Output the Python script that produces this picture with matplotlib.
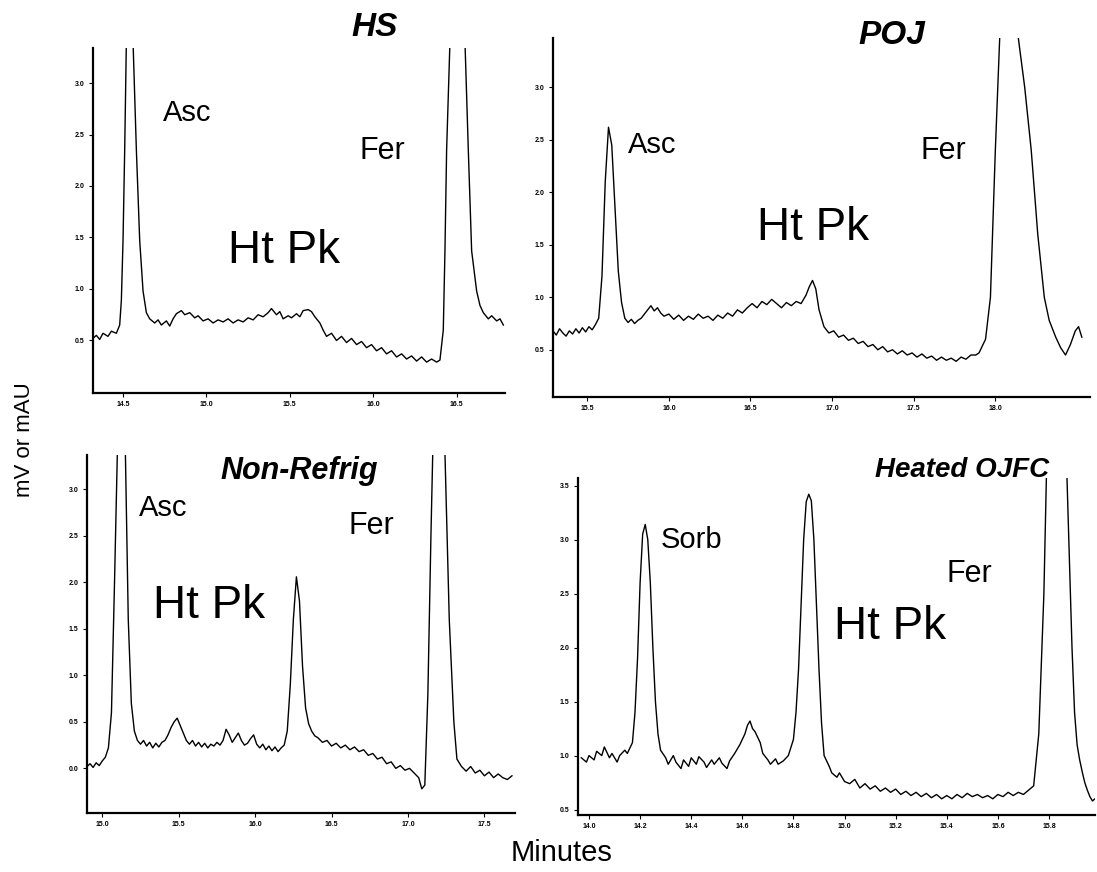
import matplotlib
matplotlib.use('Agg')
import matplotlib.pyplot as plt

plt.rcParams['font.family'] = ['Liberation Sans', 'DejaVu Sans']

# chromatogram traces (minutes, mV or mAU)
# values above the axis top are off-scale peaks, clipped by the axes
hs_time = [14.32, 14.34, 14.36, 14.38, 14.41, 14.43, 14.46, 14.48, 14.49, 14.50,
           14.51, 14.52, 14.54, 14.56, 14.58, 14.60, 14.62, 14.64, 14.66, 14.69,
           14.71, 14.73, 14.76, 14.78, 14.80, 14.82, 14.85, 14.87, 14.90, 14.93,
           14.95, 14.98, 15.01, 15.04, 15.07, 15.10, 15.13, 15.16, 15.19, 15.22,
           15.25, 15.28, 15.31, 15.34, 15.37, 15.39, 15.42, 15.44, 15.46, 15.49,
           15.51, 15.54, 15.56, 15.58, 15.61, 15.63, 15.65, 15.68, 15.70, 15.72,
           15.75, 15.78, 15.81, 15.84, 15.87, 15.90, 15.93, 15.96, 15.99, 16.02,
           16.05, 16.08, 16.11, 16.14, 16.17, 16.20, 16.23, 16.26, 16.29, 16.32,
           16.35, 16.38, 16.40, 16.42, 16.43, 16.44, 16.46, 16.50, 16.55, 16.57,
           16.59, 16.62, 16.64, 16.66, 16.69, 16.71, 16.74, 16.76, 16.78]
hs_signal = [0.52, 0.55, 0.51, 0.57, 0.54, 0.59, 0.57, 0.65, 0.89, 1.47,
             2.35, 3.40, 6.00, 3.40, 2.35, 1.47, 0.98, 0.77, 0.71, 0.67,
             0.70, 0.65, 0.69, 0.64, 0.71, 0.76, 0.79, 0.75, 0.77, 0.72,
             0.74, 0.69, 0.71, 0.67, 0.70, 0.68, 0.71, 0.67, 0.70, 0.68,
             0.72, 0.70, 0.75, 0.73, 0.77, 0.81, 0.75, 0.78, 0.71, 0.74,
             0.72, 0.76, 0.73, 0.79, 0.80, 0.78, 0.73, 0.67, 0.60, 0.54,
             0.57, 0.50, 0.54, 0.48, 0.52, 0.46, 0.49, 0.43, 0.46, 0.40,
             0.43, 0.37, 0.40, 0.34, 0.37, 0.32, 0.35, 0.30, 0.34, 0.29,
             0.32, 0.29, 0.31, 0.60, 1.37, 2.35, 3.40, 6.00, 3.40, 2.35,
             1.37, 0.98, 0.84, 0.77, 0.71, 0.74, 0.69, 0.71, 0.65]

poj_time = [15.29, 15.31, 15.33, 15.35, 15.37, 15.39, 15.41, 15.43, 15.45, 15.47,
            15.49, 15.51, 15.53, 15.55, 15.57, 15.59, 15.61, 15.63, 15.65, 15.67,
            15.69, 15.71, 15.73, 15.75, 15.77, 15.79, 15.81, 15.83, 15.85, 15.87,
            15.89, 15.91, 15.93, 15.95, 15.97, 16.00, 16.03, 16.06, 16.09, 16.12,
            16.15, 16.18, 16.21, 16.24, 16.27, 16.30, 16.33, 16.36, 16.39, 16.42,
            16.45, 16.48, 16.51, 16.54, 16.57, 16.60, 16.63, 16.66, 16.69, 16.72,
            16.75, 16.78, 16.81, 16.84, 16.86, 16.88, 16.90, 16.92, 16.95, 16.98,
            17.01, 17.04, 17.07, 17.10, 17.13, 17.16, 17.19, 17.22, 17.25, 17.28,
            17.31, 17.34, 17.37, 17.40, 17.43, 17.46, 17.49, 17.52, 17.55, 17.58,
            17.61, 17.64, 17.67, 17.70, 17.73, 17.76, 17.79, 17.82, 17.85, 17.88,
            17.90, 17.94, 17.97, 18.00, 18.03, 18.08, 18.13, 18.18, 18.22, 18.26,
            18.30, 18.33, 18.37, 18.40, 18.43, 18.46, 18.49, 18.51, 18.53]
poj_signal = [0.68, 0.64, 0.70, 0.66, 0.63, 0.68, 0.65, 0.70, 0.66, 0.71,
              0.67, 0.72, 0.69, 0.74, 0.80, 1.20, 2.10, 2.62, 2.45, 1.85,
              1.25, 0.95, 0.80, 0.76, 0.79, 0.75, 0.78, 0.80, 0.84, 0.88,
              0.92, 0.87, 0.90, 0.85, 0.82, 0.84, 0.79, 0.83, 0.78, 0.82,
              0.79, 0.84, 0.80, 0.82, 0.78, 0.83, 0.80, 0.85, 0.82, 0.88,
              0.85, 0.90, 0.94, 0.90, 0.96, 0.93, 0.98, 0.94, 0.90, 0.95,
              0.92, 0.96, 0.94, 1.02, 1.10, 1.16, 1.08, 0.88, 0.72, 0.66,
              0.68, 0.62, 0.64, 0.59, 0.61, 0.56, 0.58, 0.53, 0.55, 0.50,
              0.53, 0.48, 0.50, 0.46, 0.49, 0.45, 0.47, 0.43, 0.46, 0.42,
              0.44, 0.40, 0.43, 0.40, 0.42, 0.39, 0.43, 0.41, 0.45, 0.45,
              0.47, 0.60, 1.00, 2.40, 3.60, 6.00, 3.60, 3.00, 2.40, 1.60,
              1.00, 0.78, 0.62, 0.52, 0.45, 0.55, 0.68, 0.72, 0.62]

nr_time = [14.90, 14.92, 14.94, 14.96, 14.98, 15.00, 15.02, 15.04, 15.06, 15.08,
           15.10, 15.12, 15.15, 15.17, 15.19, 15.21, 15.23, 15.25, 15.27, 15.29,
           15.31, 15.33, 15.35, 15.37, 15.39, 15.41, 15.43, 15.45, 15.47, 15.49,
           15.51, 15.53, 15.55, 15.57, 15.59, 15.61, 15.63, 15.65, 15.67, 15.69,
           15.71, 15.73, 15.75, 15.77, 15.79, 15.81, 15.83, 15.85, 15.87, 15.89,
           15.91, 15.93, 15.95, 15.97, 15.99, 16.01, 16.03, 16.05, 16.07, 16.09,
           16.11, 16.13, 16.15, 16.17, 16.19, 16.21, 16.23, 16.25, 16.27, 16.29,
           16.31, 16.33, 16.35, 16.37, 16.39, 16.41, 16.44, 16.47, 16.50, 16.53,
           16.56, 16.59, 16.62, 16.65, 16.68, 16.71, 16.74, 16.77, 16.80, 16.83,
           16.86, 16.89, 16.92, 16.95, 16.98, 17.01, 17.04, 17.07, 17.09, 17.11,
           17.13, 17.15, 17.17, 17.20, 17.24, 17.27, 17.30, 17.32, 17.35, 17.38,
           17.41, 17.44, 17.47, 17.50, 17.53, 17.56, 17.59, 17.62, 17.65, 17.68]
nr_signal = [0.02, 0.05, 0.01, 0.06, 0.03, 0.08, 0.12, 0.22, 0.60, 2.00,
             3.50, 6.00, 3.50, 1.60, 0.70, 0.40, 0.30, 0.26, 0.30, 0.24,
             0.28, 0.22, 0.27, 0.23, 0.28, 0.30, 0.36, 0.44, 0.50, 0.54,
             0.46, 0.38, 0.30, 0.26, 0.30, 0.24, 0.28, 0.23, 0.27, 0.22,
             0.26, 0.24, 0.28, 0.25, 0.30, 0.42, 0.36, 0.28, 0.33, 0.38,
             0.30, 0.25, 0.27, 0.32, 0.36, 0.26, 0.22, 0.26, 0.20, 0.24,
             0.19, 0.23, 0.18, 0.22, 0.25, 0.40, 0.90, 1.60, 2.06, 1.80,
             1.10, 0.65, 0.48, 0.40, 0.35, 0.33, 0.28, 0.30, 0.24, 0.27,
             0.22, 0.25, 0.20, 0.23, 0.18, 0.20, 0.14, 0.16, 0.10, 0.12,
             0.05, 0.07, 0.00, 0.03, -0.02, 0.00, -0.05, -0.10, -0.22, -0.18,
             0.80, 2.50, 4.00, 6.00, 3.50, 1.60, 0.50, 0.10, 0.02, -0.03,
             0.02, -0.05, -0.02, -0.08, -0.04, -0.10, -0.06, -0.10, -0.12, -0.08]

oj_time = [13.97, 13.99, 14.00, 14.02, 14.03, 14.05, 14.06, 14.08, 14.09, 14.11,
           14.12, 14.14, 14.15, 14.17, 14.18, 14.19, 14.20, 14.21, 14.22, 14.23,
           14.24, 14.25, 14.26, 14.27, 14.28, 14.30, 14.31, 14.33, 14.34, 14.36,
           14.37, 14.39, 14.40, 14.42, 14.43, 14.45, 14.46, 14.48, 14.49, 14.51,
           14.52, 14.54, 14.55, 14.57, 14.59, 14.61, 14.62, 14.63, 14.64, 14.65,
           14.67, 14.68, 14.70, 14.71, 14.73, 14.74, 14.76, 14.78, 14.80, 14.81,
           14.82, 14.83, 14.84, 14.85, 14.86, 14.87, 14.88, 14.89, 14.90, 14.91,
           14.92, 14.94, 14.95, 14.97, 14.98, 15.00, 15.02, 15.04, 15.06, 15.08,
           15.10, 15.12, 15.14, 15.16, 15.18, 15.20, 15.22, 15.24, 15.26, 15.28,
           15.30, 15.32, 15.34, 15.36, 15.38, 15.40, 15.42, 15.44, 15.46, 15.48,
           15.50, 15.52, 15.54, 15.56, 15.58, 15.60, 15.62, 15.64, 15.66, 15.68,
           15.70, 15.72, 15.74, 15.76, 15.78, 15.79, 15.83, 15.87, 15.88, 15.89,
           15.90, 15.91, 15.92, 15.93, 15.94, 15.95, 15.96, 15.97, 15.98]
oj_signal = [0.98, 0.94, 1.00, 0.96, 1.04, 1.00, 1.08, 0.98, 1.02, 0.94,
             1.00, 1.05, 1.02, 1.12, 1.40, 1.90, 2.60, 3.05, 3.14, 3.00,
             2.60, 2.00, 1.50, 1.20, 1.05, 0.98, 0.92, 1.00, 0.94, 0.88,
             0.96, 0.90, 0.98, 0.92, 0.99, 0.94, 0.89, 0.96, 0.92, 0.98,
             0.93, 0.88, 0.95, 1.02, 1.10, 1.20, 1.28, 1.32, 1.25, 1.22,
             1.12, 1.02, 0.96, 0.92, 0.97, 0.92, 0.95, 1.00, 1.15, 1.40,
             1.80, 2.40, 3.00, 3.35, 3.42, 3.36, 3.00, 2.40, 1.80, 1.30,
             1.00, 0.90, 0.84, 0.80, 0.84, 0.76, 0.74, 0.78, 0.70, 0.74,
             0.69, 0.72, 0.67, 0.70, 0.66, 0.69, 0.64, 0.67, 0.63, 0.66,
             0.62, 0.65, 0.61, 0.64, 0.60, 0.63, 0.60, 0.64, 0.61, 0.65,
             0.62, 0.64, 0.61, 0.63, 0.60, 0.64, 0.62, 0.66, 0.63, 0.66,
             0.64, 0.68, 0.72, 1.20, 2.50, 3.60, 6.00, 3.60, 2.80, 2.00,
             1.40, 1.10, 0.96, 0.85, 0.75, 0.68, 0.62, 0.58, 0.60]

W, H = 1097, 872


def box(x0, y0, x1, y1):
    # pixel box (top-left origin) -> figure fraction rect
    return [x0 / W, 1 - y1 / H, (x1 - x0) / W, (y1 - y0) / H]


panels = [
    dict(t=hs_time, s=hs_signal, rect=box(93, 48, 505, 393),
         xlim=(14.32, 16.79), ylim=(-0.01, 3.34),
         xt=[14.5, 15.0, 15.5, 16.0, 16.5], yt=[0.5, 1.0, 1.5, 2.0, 2.5, 3.0],
         title='HS', tpos=(375, 27), tsize=24,
         labels=[('Asc', 14.74, 2.71, 21), ('Fer', 15.92, 2.34, 22),
                 ('Ht Pk', 15.13, 1.37, 33)]),
    dict(t=poj_time, s=poj_signal, rect=box(553, 38, 1090, 397),
         xlim=(15.29, 18.58), ylim=(0.05, 3.47),
         xt=[15.5, 16.0, 16.5, 17.0, 17.5, 18.0], yt=[0.5, 1.0, 1.5, 2.0, 2.5, 3.0],
         title='POJ', tpos=(892, 35), tsize=24,
         labels=[('Asc', 15.75, 2.45, 21), ('Fer', 17.54, 2.39, 22),
                 ('Ht Pk', 16.54, 1.66, 33)]),
    dict(t=nr_time, s=nr_signal, rect=box(87, 455, 515, 813),
         xlim=(14.90, 17.70), ylim=(-0.48, 3.37),
         xt=[15.0, 15.5, 16.0, 16.5, 17.0, 17.5],
         yt=[0.0, 0.5, 1.0, 1.5, 2.0, 2.5, 3.0],
         title='Non-Refrig', tpos=(299, 471), tsize=22,
         labels=[('Asc', 15.24, 2.80, 21), ('Fer', 16.61, 2.61, 22),
                 ('Ht Pk', 15.33, 1.75, 33)]),
    dict(t=oj_time, s=oj_signal, rect=box(578, 478, 1095, 815),
         xlim=(13.957, 15.98), ylim=(0.45, 3.57),
         xt=[14.0, 14.2, 14.4, 14.6, 14.8, 15.0, 15.2, 15.4, 15.6, 15.8],
         yt=[0.5, 1.0, 1.5, 2.0, 2.5, 3.0, 3.5],
         title='Heated OJFC', tpos=(962, 470), tsize=20,
         labels=[('Sorb', 14.28, 3.00, 21), ('Fer', 15.40, 2.68, 22),
                 ('Ht Pk', 14.96, 2.19, 33)]),
]

fig = plt.figure(figsize=(W / 100, H / 100), dpi=100)

for p in panels:
    ax = fig.add_axes(p['rect'])
    ax.plot(p['t'], p['s'], color='black', linewidth=1.0)
    ax.set_xlim(*p['xlim'])
    ax.set_ylim(*p['ylim'])
    ax.set_xticks(p['xt'])
    ax.set_yticks(p['yt'])
    ax.set_xticklabels(['%.1f' % v for v in p['xt']], fontsize=5, fontweight='bold')
    ax.set_yticklabels(['%.1f' % v for v in p['yt']], fontsize=5, fontweight='bold')
    ax.tick_params(length=3, width=0.8, pad=3)
    for side in ['top', 'right']:
        ax.spines[side].set_visible(False)
    for side in ['left', 'bottom']:
        ax.spines[side].set_linewidth(1.6)
    for txt, x, y, size in p['labels']:
        ax.text(x, y, txt, fontsize=size, ha='left', va='center')
    fig.text(p['tpos'][0] / W, 1 - p['tpos'][1] / H, p['title'], fontsize=p['tsize'],
             fontweight='bold', fontstyle='italic', ha='center', va='center')

fig.text(25 / W, 1 - 440 / H, 'mV or mAU', fontsize=16, rotation=90,
         ha='center', va='center')
fig.text(562 / W, 1 - 853 / H, 'Minutes', fontsize=21, ha='center', va='center')

fig.savefig('out.png', dpi=100)
